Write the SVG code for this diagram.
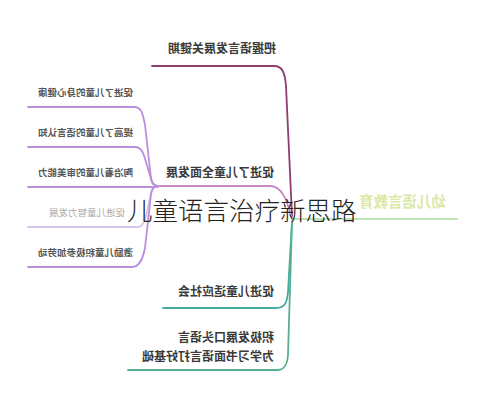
<svg xmlns="http://www.w3.org/2000/svg" width="486" height="400" viewBox="0 0 486 400">
<style>
.t{font-family:"Noto Sans CJK SC","Liberation Sans",sans-serif;fill:#3a3a3a;font-weight:bold}
.c{font-family:"Noto Sans CJK SC","Liberation Sans",sans-serif;fill:#555;font-size:9.5px;font-weight:bold}
.ln{fill:none;stroke-width:1.8;stroke-linecap:round}
.top{stroke:#8e3d6e}
.mid{stroke:#c889c8}
.kid{stroke:#b98fdc}
.bot{stroke:#45ad9f}
.root{stroke:#bfe3b4}
</style>
<rect width="486" height="400" fill="#ffffff"/>
<g id="connectors">
<path class="ln top" d="M152,66 H274 C283,66 285,74 286,86 L292,216"/>
<path class="ln mid" d="M155,186 H270 C282,186 287,200 292,219"/>
<path class="ln root" d="M292,219 H457"/>
<path class="ln bot" d="M292,222 L288,292 C287,304 284,308 276,308 H163"/>
<path class="ln bot" d="M292,222 L288,355 C287,366 284,370 278,370 H128" style="stroke:#5aae90"/>
<path class="ln kid" d="M28,107 H134 C142,107 143,115 145,125 L151,178 C152,184 154,186 158,186"/>
<path class="ln kid" d="M28,147 H135 C142,147 144,155 146,162 L151,179 C152,184 154,186 158,186"/>
<path class="ln kid" d="M28,187 H158"/>
<path class="ln kid" d="M28,227 H138 C143,227 145,220 147,212 L151,193 C152,188 154,186 158,186" style="stroke:#d9c6ee"/>
<path class="ln kid" d="M28,267 H132 C140,267 143,258 145,248 L151,194 C152,188 154,186 158,186"/>
</g>
<g id="root">
<text transform="scale(-1,1)" x="-446" y="207" class="t" style="font-size:14.5px;fill:#dbe8a6">幼儿语言教育</text>
</g>
<g id="n-key-period">
<text transform="scale(-1,1)" x="-276" y="53" class="t" style="font-size:12px">把握语言发展关键期</text>
</g>
<g id="n-all-round">
<text transform="scale(-1,1)" x="-274" y="177" class="t" style="font-size:12px">促进了儿童全面发展</text>
</g>
<g id="c1"><text transform="scale(-1,1)" x="-133" y="96" class="c">促进了儿童的身心健康</text></g>
<g id="c2"><text transform="scale(-1,1)" x="-133" y="136" class="c">提高了儿童的语言认知</text></g>
<g id="c3"><text transform="scale(-1,1)" x="-133" y="176" class="c">陶冶着儿童的审美能力</text></g>
<g id="c4"><text transform="scale(-1,1)" x="-125" y="216" class="c" style="fill:#aaa;font-weight:normal">促进儿童智力发展</text></g>
<g id="c5"><text transform="scale(-1,1)" x="-133" y="256" class="c">激励儿童积极参加劳动</text></g>
<g id="n-society">
<text transform="scale(-1,1)" x="-274" y="296" class="t" style="font-size:12px">促进儿童适应社会</text>
</g>
<g id="n-oral">
<text transform="scale(-1,1)" x="-274" y="342" class="t" style="font-size:12px">积极发展口头语言</text>
<text transform="scale(-1,1)" x="-274" y="361" class="t" style="font-size:12px">为学习书面语言打好基础</text>
</g>
<g id="title">
<text x="127" y="220" style="font-family:'Noto Sans CJK SC','Liberation Sans',sans-serif;font-size:25.5px;font-weight:300;fill:#222">儿童语言治疗新思路</text>
</g>
</svg>
